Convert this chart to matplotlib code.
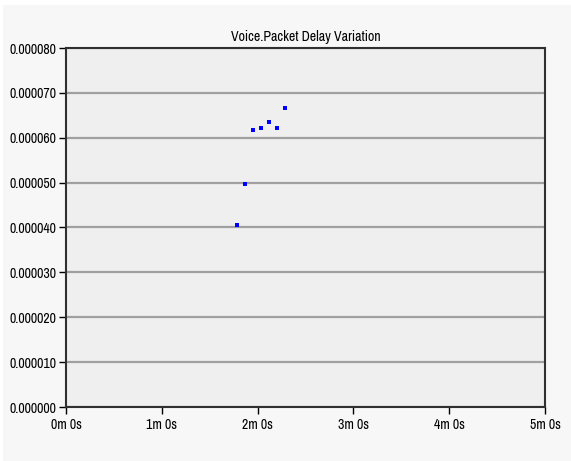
import matplotlib
matplotlib.use("Agg")
import matplotlib.pyplot as plt
from matplotlib.patches import Rectangle

# Data (time in seconds, packet delay variation in seconds)
time_s = [107, 112, 117, 122, 127, 132, 137]
delay_var = [4.06e-5, 4.97e-5, 6.17e-5, 6.22e-5, 6.35e-5, 6.22e-5, 6.66e-5]
x_ticks = [0, 60, 120, 180, 240, 300]
x_tick_labels = ["0m 0s", "1m 0s", "2m 0s", "3m 0s", "4m 0s", "5m 0s"]
y_ticks = [0.0, 0.00001, 0.00002, 0.00003, 0.00004, 0.00005, 0.00006, 0.00007, 0.00008]
y_tick_labels = ["%.6f" % v for v in y_ticks]
title = "Voice.Packet Delay Variation"

plt.rcParams['font.family'] = ['Archivo Narrow', 'Liberation Sans', 'DejaVu Sans']

W, H = 571, 461
fig = plt.figure(figsize=(W / 100, H / 100), dpi=100, facecolor='white')
fig.patches.append(Rectangle((3 / W, 0), 1 - 3 / W, 1 - 5 / H, transform=fig.transFigure,
                             facecolor='#f7f7f7', edgecolor='none', zorder=-10))

ax = fig.add_axes([66 / W, 1 - 407 / H, (545 - 66) / W, (407 - 48) / H])
ax.set_facecolor('#efefef')
ax.plot(time_s, delay_var, linestyle='none', marker='s', markersize=3.0,
        color='#0000ff', markeredgewidth=0, zorder=5)

ax.set_xlim(0, 300)
ax.set_ylim(0, 0.00008)
ax.set_xticks(x_ticks)
ax.set_xticklabels(x_tick_labels)
ax.set_yticks(y_ticks)
ax.set_yticklabels(y_tick_labels)
ax.tick_params(axis='both', labelsize=10, colors='#000000', length=5, width=1)
ax.tick_params(axis='x', pad=3)
ax.tick_params(axis='y', pad=2)
ax.yaxis.grid(True, color='#a0a0a0', linewidth=1.6)
ax.set_axisbelow(True)
for s in ax.spines.values():
    s.set_color('#303030')
    s.set_linewidth(1.5)
ax.set_title(title, fontsize=10, pad=5)

fig.savefig("out.png", dpi=100, facecolor=fig.get_facecolor())
